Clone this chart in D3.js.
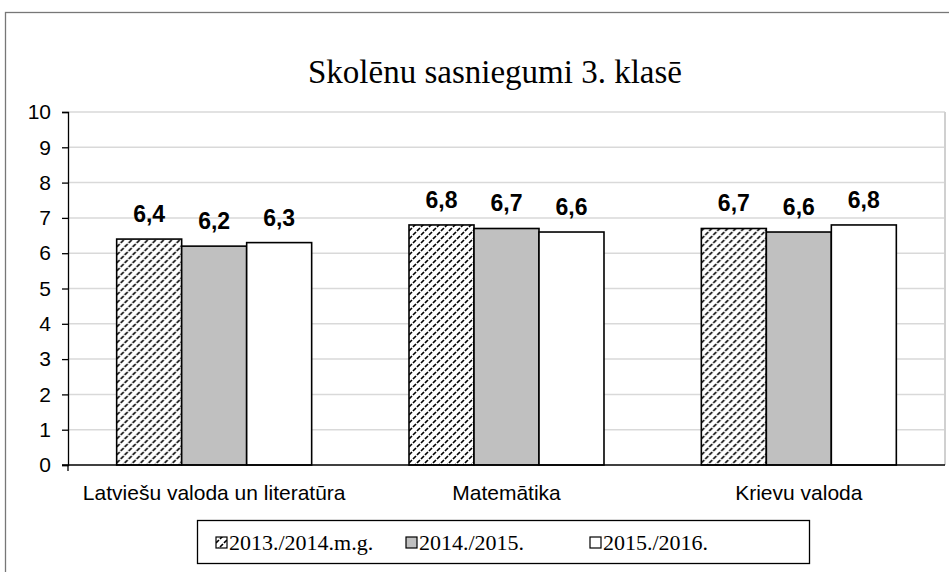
<!DOCTYPE html>
<html>
<head>
<meta charset="utf-8">
<script src="https://cdn.jsdelivr.net/npm/d3@7"></script>
<style>
  body { margin: 0; background: #fff; }
  svg { display: block; }
</style>
</head>
<body>
<div id="chart"></div>
<script>
// data
const categories = ["Latviešu valoda un literatūra", "Matemātika", "Krievu valoda"];
const seriesNames = ["2013./2014.m.g.", "2014./2015.", "2015./2016."];
const s2014 = [6.4, 6.8, 6.7];
const s2015 = [6.2, 6.7, 6.6];
const s2016 = [6.3, 6.6, 6.8];
const yTicks = [0, 1, 2, 3, 4, 5, 6, 7, 8, 9, 10];
const allSeries = [s2014, s2015, s2016];

const width = 949, height = 572;
const plot = {left: 68, right: 945, top: 112, bottom: 465};

const svg = d3.select("#chart").append("svg")
    .attr("width", width)
    .attr("height", height);

// hatch pattern for first series
const defs = svg.append("defs");
const pat = defs.append("pattern")
    .attr("id", "hatch")
    .attr("patternUnits", "userSpaceOnUse")
    .attr("width", 8).attr("height", 8);
pat.append("rect").attr("width", 8).attr("height", 8).attr("fill", "#fff");
pat.append("path")
    .attr("d", "M0,7 L3,4 M4,3 L7,0 M4,11 L7,8 M-4,3 L-1,0 M8,7 L11,4")
    .attr("stroke", "#000").attr("stroke-width", 1.6);

const fills = ["url(#hatch)", "#c0c0c0", "#ffffff"];

// outer frame
svg.append("rect")
    .attr("x", 5.5).attr("y", 12.5)
    .attr("width", 960).attr("height", 600)
    .attr("fill", "none").attr("stroke", "#777").attr("stroke-width", 1.3);

// title
svg.append("text")
    .attr("x", 495).attr("y", 83)
    .attr("text-anchor", "middle")
    .style("font", "33px 'Liberation Serif', 'Times New Roman', serif")
    .text("Skolēnu sasniegumi 3. klasē");

const x0 = d3.scaleBand()
    .domain(categories)
    .range([plot.left, plot.right])
    .paddingInner(0.333)
    .paddingOuter(0.1665);

const x1 = d3.scaleBand()
    .domain(d3.range(seriesNames.length))
    .range([0, x0.bandwidth()]);

const y = d3.scaleLinear()
    .domain([0, 10])
    .range([plot.bottom, plot.top]);

// gridlines
svg.append("g").selectAll("line")
    .data(yTicks.filter(d => d > 0))
    .enter().append("line")
    .attr("x1", plot.left).attr("x2", plot.right)
    .attr("y1", d => y(d)).attr("y2", d => y(d))
    .attr("stroke", "#d9d9d9").attr("stroke-width", 1.5);

// plot area right border
svg.append("line")
    .attr("x1", plot.right).attr("x2", plot.right)
    .attr("y1", plot.top).attr("y2", plot.bottom)
    .attr("stroke", "#d0d0d0").attr("stroke-width", 2);

// bars
const groups = svg.append("g").selectAll("g")
    .data(categories)
    .enter().append("g")
    .attr("transform", d => "translate(" + x0(d) + ",0)");

groups.selectAll("rect")
    .data((d, i) => allSeries.map((s, j) => ({s: j, v: s[i]})))
    .enter().append("rect")
    .attr("x", d => x1(d.s))
    .attr("y", d => y(d.v))
    .attr("width", x1.bandwidth())
    .attr("height", d => y(0) - y(d.v))
    .attr("fill", d => fills[d.s])
    .attr("stroke", "#000")
    .attr("stroke-width", 1.6);

groups.selectAll("text")
    .data((d, i) => allSeries.map((s, j) => ({s: j, v: s[i]})))
    .enter().append("text")
    .attr("x", d => x1(d.s) + x1.bandwidth() / 2)
    .attr("y", d => y(d.v) - 17)
    .attr("text-anchor", "middle")
    .style("font", "bold 23px 'Liberation Sans', Arial, sans-serif")
    .text(d => d3.format(".1f")(d.v).replace(".", ","));

// y axis
const yAxis = d3.axisLeft(y).tickValues(yTicks).tickSize(6).tickPadding(11);
const gy = svg.append("g")
    .attr("transform", "translate(" + plot.left + ",0)")
    .call(yAxis);
gy.select(".domain").attr("stroke", "#000").attr("stroke-width", 1.3);
gy.selectAll(".tick line").attr("stroke", "#000").attr("stroke-width", 1.3);
gy.selectAll(".tick text")
    .attr("fill", "#000")
    .style("font", "21px 'Liberation Sans', Arial, sans-serif");

// x axis
const xAxis = d3.axisBottom(x0).tickSize(0).tickPadding(20);
const gx = svg.append("g")
    .attr("transform", "translate(0," + plot.bottom + ")")
    .call(xAxis);
gx.select(".domain").attr("stroke", "#000").attr("stroke-width", 1.3)
    .attr("d", "M" + (plot.left - 6) + ",0H" + plot.right);
gx.selectAll(".tick text")
    .attr("fill", "#000")
    .style("font", "21px 'Liberation Sans', Arial, sans-serif");
gx.append("line")
    .attr("x1", plot.left).attr("x2", plot.left)
    .attr("y1", 0).attr("y2", 6)
    .attr("stroke", "#000").attr("stroke-width", 1.3);

// legend
const legend = svg.append("g");
legend.append("rect")
    .attr("x", 197.5).attr("y", 520.5)
    .attr("width", 612).attr("height", 43)
    .attr("fill", "#fff").attr("stroke", "#000").attr("stroke-width", 1.3);

const legendX = [216, 406, 590];
const items = legend.selectAll("g.item")
    .data(seriesNames)
    .enter().append("g")
    .attr("class", "item")
    .attr("transform", (d, i) => "translate(" + legendX[i] + ",0)");
items.append("rect")
    .attr("x", 0).attr("y", 537)
    .attr("width", 11).attr("height", 11)
    .attr("fill", (d, i) => fills[i])
    .attr("stroke", "#000").attr("stroke-width", 1.2);
items.append("text")
    .attr("x", 13).attr("y", 550)
    .style("font", "22px 'Liberation Serif', 'Times New Roman', serif")
    .text(d => d);
</script>
</body>
</html>
